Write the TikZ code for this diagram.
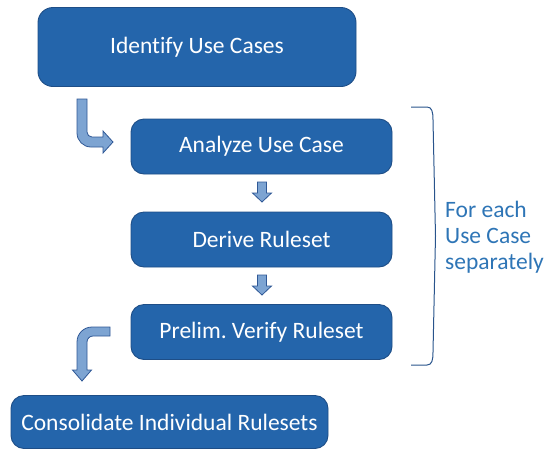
\documentclass[tikz,border=0pt]{standalone}
\usepackage{fontspec}
\setmainfont[Ligatures=NoCommon]{Carlito}
\frenchspacing
\definecolor{boxfill}{RGB}{36,101,171}
\definecolor{boxline}{RGB}{30,78,135}
\definecolor{arrfill}{RGB}{125,164,210}
\definecolor{arrline}{RGB}{47,88,150}
\definecolor{sidetext}{RGB}{46,117,182}
\definecolor{braceline}{RGB}{41,84,140}
\begin{document}
\begin{tikzpicture}[x=1pt,y=-1pt,
  stage/.style={draw=boxline, line width=0.9pt, fill=boxfill, text=white,
    rounded corners=13pt, inner sep=0pt, font=\fontsize{23.5}{28}\selectfont},
  blockarrow/.style={draw=arrline, line width=0.8pt, fill=arrfill, line join=miter}]
\useasboundingbox (0,0) rectangle (546,448);
\node[stage, minimum width=318pt, minimum height=79pt, rounded corners=15pt] (identify) at (197,47) {Identify Use Cases};
\node[stage, minimum width=261pt, minimum height=55pt] (analyze) at (261.5,146.5) {Analyze Use Case};
\node[stage, minimum width=261pt, minimum height=55pt] (derive) at (261.5,239.5) {Derive Ruleset};
\node[stage, minimum width=261pt, minimum height=55pt] (verify) at (261.5,332) {Prelim. Verify Ruleset};
\node[stage, minimum width=317pt, minimum height=53pt] (consolidate) at (169.5,422) {Consolidate Individual Rulesets};
% bent arrow identify -> analyze
\draw[blockarrow] (77,99) -- (77,133) .. controls (77,140.7) and (83.3,147) .. (91,147)
  -- (103,147) -- (103,153) -- (113,142) -- (103,131) -- (103,137) -- (92,137)
  .. controls (89.2,137) and (87,134.8) .. (87,132) -- (87,99) -- cycle;
% straight down arrows
\draw[blockarrow] (257.5,182) -- (266.5,182) -- (266.5,193) -- (271.5,193) -- (262,202) -- (252.5,193) -- (257.5,193) -- cycle;
\draw[blockarrow] (257.5,275) -- (266.5,275) -- (266.5,286) -- (271.5,286) -- (262,295) -- (252.5,286) -- (257.5,286) -- cycle;
% bent arrow verify -> consolidate
\draw[blockarrow] (110,327) -- (92,327) .. controls (83.7,327) and (77,333.7) .. (77,342)
  -- (77,370) -- (72.5,370) -- (82,381) -- (91.5,370) -- (87,370) -- (87,342)
  .. controls (87,338.7) and (89.7,336) .. (93,336) -- (110,336) -- cycle;
% bracket
\coordinate (btop) at (411,107);
\coordinate (bbot) at (411,365);
\draw[braceline, line width=1pt] (btop) -- (427,107) .. controls (432,107) and (433,112) .. (433,120)
  -- (435.5,236) -- (433,352) .. controls (433,360) and (432,365) .. (427,365) -- (bbot);
\node[anchor=north west, text=sidetext, align=left, inner sep=0pt,
  font=\fontsize{23.5}{26}\selectfont] (side) at (445,201) {For each\\Use Case\\separately};
\end{tikzpicture}
\end{document}
